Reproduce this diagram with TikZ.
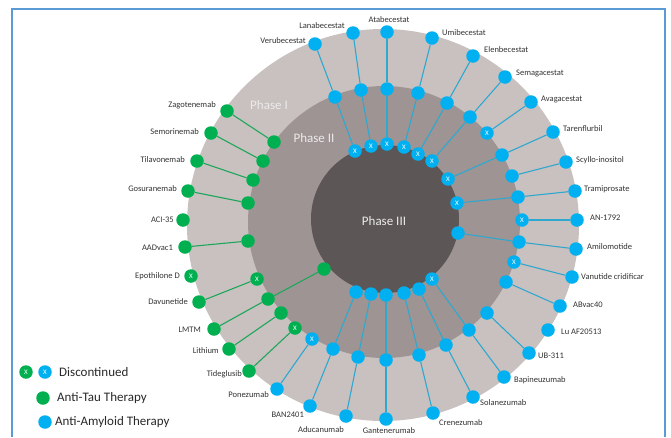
\documentclass[tikz,border=0pt]{standalone}
\usepackage{fontspec}
\setmainfont{Carlito}
\definecolor{frameblue}{HTML}{5B9BD5}
\definecolor{ringA}{HTML}{C9C1C0}
\definecolor{ringB}{HTML}{9E9493}
\definecolor{ringC}{HTML}{5D5656}
\definecolor{bnode}{HTML}{00B0F0}
\definecolor{gnode}{HTML}{00B050}
\definecolor{bline}{HTML}{2FA8CF}
\definecolor{gline}{HTML}{1EA75A}
\definecolor{labtxt}{HTML}{333333}
\tikzset{
 dotbase/.style={circle,minimum size=13.5pt,inner sep=0pt,text=white,font=\fontsize{7}{7}\selectfont},
 bdot/.style={dotbase,fill=bnode},
 gdot/.style={dotbase,fill=gnode},
 lab/.style={font=\fontsize{8.5}{10}\selectfont,text=labtxt,inner sep=0pt},
 bcon/.style={draw=bline,line width=1.1pt},
 gcon/.style={draw=gline,line width=1.1pt},
 phaselab/.style={font=\fontsize{13}{15}\selectfont,text=white!92!black,inner sep=0pt},
 leglab/.style={font=\fontsize{13}{15}\selectfont,anchor=west,inner sep=0pt,text=labtxt!80!black},
}
\begin{document}
\begin{tikzpicture}[x=1pt,y=-1pt]
\useasboundingbox (0,0) rectangle (671,437);
\fill[white] (0,0) rectangle (671,437);
% frame
\draw[frameblue,line width=2pt] (12,437) -- (12,9) -- (665,9) -- (665,437);
% rings
\fill[ringA] (383,225) circle (196);
\fill[ringB] (384,222) circle (136);
\fill[ringC] (385,219) circle (74);
\node[phaselab] (ph1) at (269,105) {Phase I};
\node[phaselab] (ph2) at (314,138) {Phase II};
\node[phaselab] (ph3) at (384,221) {Phase III};

% ===== anti-tau (green) =====
\node[gdot] (zag1) at (227,111) {};
\node[gdot] (zag2) at (274,142) {};
\node[gdot] (sem1) at (211,133) {};
\node[gdot] (sem2) at (263,161) {};
\node[gdot] (til1) at (197,161) {};
\node[gdot] (til2) at (253,180) {};
\node[gdot] (gos1) at (188,191) {};
\node[gdot] (gos2) at (248,203) {};
\node[gdot] (aci1) at (183,220) {};
\node[gdot] (aad1) at (185,247) {};
\node[gdot] (aad2) at (248,241) {};
\node[gdot] (epo1) at (191,276) {X};
\node[gdot] (dav1) at (199,302) {};
\node[gdot] (dav2) at (257,279) {X};
\node[gdot] (lmt1) at (214,329) {};
\node[gdot] (lmt2) at (268,299) {};
\node[gdot] (lmt3) at (324,269) {};
\node[gdot] (lit1) at (229,349) {};
\node[gdot] (lit2) at (281,313) {};
\node[gdot] (tid1) at (249,371) {};
\node[gdot] (tid2) at (295,328) {X};

\draw[gcon] (zag1) -- (zag2);
\draw[gcon] (sem1) -- (sem2);
\draw[gcon] (til1) -- (til2);
\draw[gcon] (gos1) -- (gos2);
\draw[gcon] (aad1) -- (aad2);
\draw[gcon] (dav1) -- (dav2);
\draw[gcon] (lmt1) -- (lmt2) -- (lmt3);
\draw[gcon] (lit1) -- (lit2);
\draw[gcon] (tid1) -- (tid2);

\node[lab,anchor=east] (zagL) at (216,105) {Zagotenemab};
\node[lab,anchor=east] (semL) at (199,132) {Semorinemab};
\node[lab,anchor=east] (tilL) at (185,160) {Tilavonemab};
\node[lab,anchor=east] (gosL) at (177,189) {Gosuranemab};
\node[lab,anchor=east] (aciL) at (174,220) {ACI-35};
\node[lab,anchor=east] (aadL) at (173,248) {AADvac1};
\node[lab,anchor=east] (epoL) at (180,276) {Epothilone D};
\node[lab,anchor=east] (davL) at (188,302) {Davunetide};
\node[lab,anchor=east] (lmtL) at (201,330) {LMTM};
\node[lab,anchor=east] (litL) at (219,351) {Lithium};
\node[lab,anchor=east] (tidL) at (242,374) {Tideglusib};

% ===== anti-amyloid (blue) =====
\node[bdot] (ver1) at (315,44) {};
\node[bdot] (ver2) at (335,97) {};
\node[bdot] (ver3) at (355,151) {X};
\node[bdot] (lan1) at (353,33) {};
\node[bdot] (lan2) at (361,90) {};
\node[bdot] (lan3) at (371,146) {X};
\node[bdot] (ata1) at (387,32) {};
\node[bdot] (ata2) at (387,89) {};
\node[bdot] (ata3) at (387,144) {X};
\node[bdot] (umi1) at (432,38) {};
\node[bdot] (umi2) at (418,93) {};
\node[bdot] (umi3) at (404,147) {X};
\node[bdot] (ele1) at (473,56) {};
\node[bdot] (ele2) at (447,103) {};
\node[bdot] (ele3) at (418,154) {X};
\node[bdot] (sma1) at (505,77) {};
\node[bdot] (sma2) at (470,117) {};
\node[bdot] (sma3) at (432,161) {X};
\node[bdot] (ava1) at (531,102) {};
\node[bdot] (ava2) at (487,133) {X};
\node[bdot] (tar1) at (553,132) {};
\node[bdot] (tar2) at (502,155) {};
\node[bdot] (tar3) at (448,179) {X};
\node[bdot] (scy1) at (566,162) {};
\node[bdot] (scy2) at (512,176) {};
\node[bdot] (tra1) at (575,191) {};
\node[bdot] (tra2) at (518,197) {};
\node[bdot] (tra3) at (457,203) {X};
\node[bdot] (anx1) at (577,220) {};
\node[bdot] (anx2) at (522,220) {X};
\node[bdot] (ami1) at (576,249) {};
\node[bdot] (ami2) at (519,242) {};
\node[bdot] (ami3) at (458,233) {};
\node[bdot] (van1) at (572,277) {};
\node[bdot] (van2) at (514,262) {X};
\node[bdot] (abv1) at (560,306) {};
\node[bdot] (abv2) at (506,282) {};
\node[bdot] (luaf) at (548,330) {};
\node[bdot] (ubt1) at (529,353) {};
\node[bdot] (ubt2) at (487,313) {};
\node[bdot] (bap1) at (504,377) {};
\node[bdot] (bap2) at (469,330) {};
\node[bdot] (bap3) at (432,279) {X};
\node[bdot] (sol1) at (473,397) {};
\node[bdot] (sol2) at (446,345) {};
\node[bdot] (sol3) at (419,289) {};
\node[bdot] (cre1) at (433,413) {};
\node[bdot] (cre2) at (419,355) {};
\node[bdot] (cre3) at (404,293) {};
\node[bdot] (gan1) at (386,419) {};
\node[bdot] (gan2) at (386,360) {};
\node[bdot] (gan3) at (386,295) {};
\node[bdot] (adu1) at (346,416) {};
\node[bdot] (adu2) at (358,357) {};
\node[bdot] (adu3) at (371,294) {};
\node[bdot] (ban1) at (310,406) {};
\node[bdot] (ban2) at (333,349) {};
\node[bdot] (ban3) at (356,292) {};
\node[bdot] (pon1) at (277,389) {};
\node[bdot] (pon2) at (312,339) {X};

\draw[bcon] (ver1) -- (ver2) -- (ver3);
\draw[bcon] (lan1) -- (lan2) -- (lan3);
\draw[bcon] (ata1) -- (ata2) -- (ata3);
\draw[bcon] (umi1) -- (umi2) -- (umi3);
\draw[bcon] (ele1) -- (ele2) -- (ele3);
\draw[bcon] (sma1) -- (sma2) -- (sma3);
\draw[bcon] (ava1) -- (ava2);
\draw[bcon] (tar1) -- (tar2) -- (tar3);
\draw[bcon] (scy1) -- (scy2);
\draw[bcon] (tra1) -- (tra2) -- (tra3);
\draw[bcon] (anx1) -- (anx2);
\draw[bcon] (ami1) -- (ami2) -- (ami3);
\draw[bcon] (van1) -- (van2);
\draw[bcon] (abv1) -- (abv2);
\draw[bcon] (ubt1) -- (ubt2);
\draw[bcon] (bap1) -- (bap2) -- (bap3);
\draw[bcon] (sol1) -- (sol2) -- (sol3);
\draw[bcon] (cre1) -- (cre2) -- (cre3);
\draw[bcon] (gan1) -- (gan2) -- (gan3);
\draw[bcon] (adu1) -- (adu2) -- (adu3);
\draw[bcon] (ban1) -- (ban2) -- (ban3);
\draw[bcon] (pon1) -- (pon2);

\node[lab,anchor=east] (verL) at (306,41) {Verubecestat};
\node[lab,anchor=east] (lanL) at (345,26) {Lanabecestat};
\node[lab] (ataL) at (389,20) {Atabecestat};
\node[lab,anchor=west] (umiL) at (442,33) {Umibecestat};
\node[lab,anchor=west] (eleL) at (484,50) {Elenbecestat};
\node[lab,anchor=west] (smaL) at (516,73) {Semagacestat};
\node[lab,anchor=west] (avaL) at (541,99) {Avagacestat};
\node[lab,anchor=west] (tarL) at (563,129) {Tarenflurbil};
\node[lab,anchor=west] (scyL) at (576,160) {Scyllo-inositol};
\node[lab,anchor=west] (traL) at (584,189) {Tramiprosate};
\node[lab,anchor=west] (anxL) at (590,218) {AN-1792};
\node[lab,anchor=west] (amiL) at (587,247) {Amilomotide};
\node[lab,anchor=west] (vanL) at (581,277) {Vanutide cridificar};
\node[lab,anchor=west] (abvL) at (573,305) {ABvac40};
\node[lab,anchor=west] (luaL) at (561,332) {Lu AF20513};
\node[lab,anchor=west] (ubtL) at (538,356) {UB-311};
\node[lab,anchor=west] (bapL) at (514,380) {Bapineuzumab};
\node[lab,anchor=west] (solL) at (480,403) {Solanezumab};
\node[lab,anchor=west] (creL) at (439,423) {Crenezumab};
\node[lab] (ganL) at (389,431) {Gantenerumab};
\node[lab,anchor=east] (aduL) at (344,430) {Aducanumab};
\node[lab,anchor=east] (banL) at (304,415) {BAN2401};
\node[lab,anchor=east] (ponL) at (269,395) {Ponezumab};

% ===== legend =====
\node[gdot] (lgx) at (26,372) {X};
\node[bdot] (lbx) at (45,372) {X};
\node[leglab] (lg1) at (59,372) {Discontinued};
\node[gdot] (lgt) at (43,398) {};
\node[leglab] (lg2) at (57,398) {Anti-Tau Therapy};
\node[bdot] (lga) at (45,422) {};
\node[leglab] (lg3) at (55,422) {Anti-Amyloid Therapy};
\end{tikzpicture}
\end{document}
